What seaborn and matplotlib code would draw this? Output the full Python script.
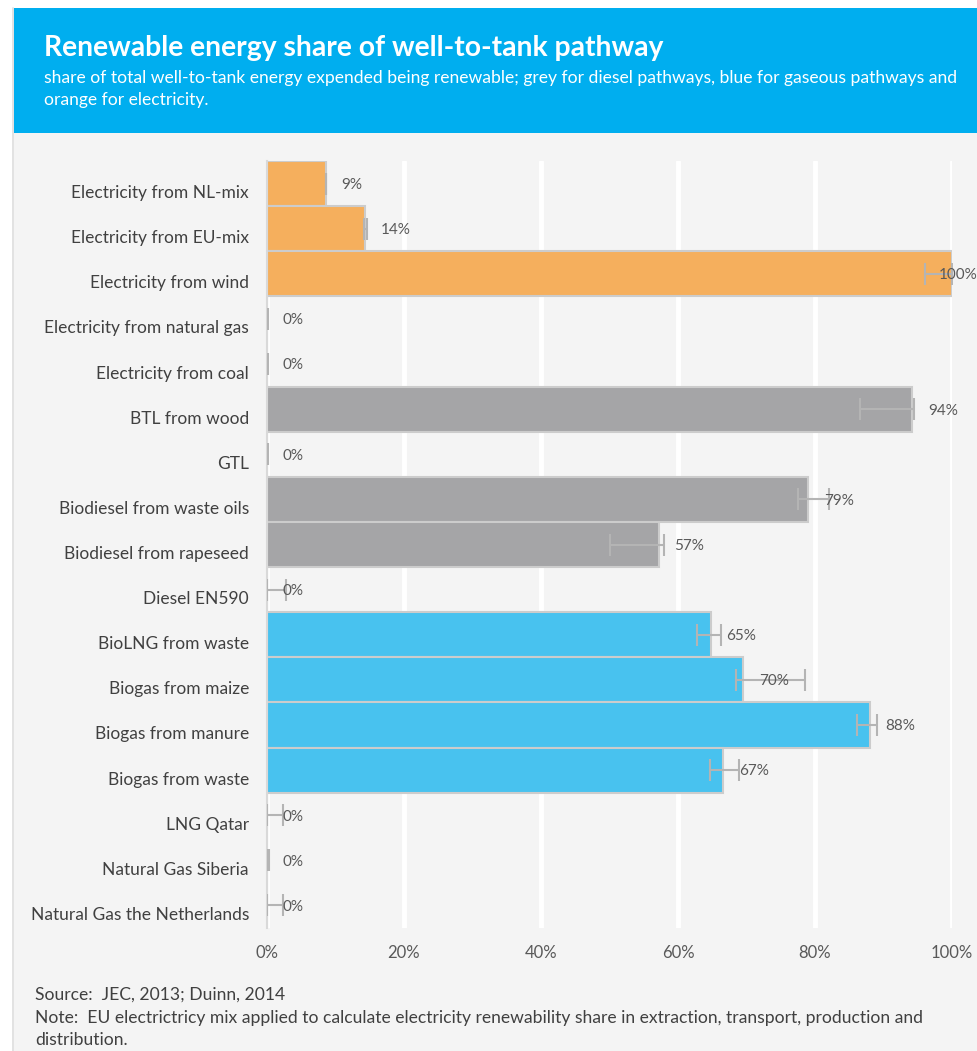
import pandas as pd
import seaborn as sns
import matplotlib.pyplot as plt
import matplotlib.transforms as mtransforms
from matplotlib.patches import Rectangle
from matplotlib.lines import Line2D

# Data (top to bottom)
pathways = [
    "Electricity from NL-mix", "Electricity from EU-mix", "Electricity from wind",
    "Electricity from natural gas", "Electricity from coal", "BTL from wood", "GTL",
    "Biodiesel from waste oils", "Biodiesel from rapeseed", "Diesel EN590",
    "BioLNG from waste", "Biogas from maize", "Biogas from manure", "Biogas from waste",
    "LNG Qatar", "Natural Gas Siberia", "Natural Gas the Netherlands",
]
share = [8.6, 14.3, 100, 0, 0, 94.2, 0, 79.0, 57.2, 0, 64.8, 69.5, 88.0, 66.6, 0, 0, 0]
err_low = [0, 0.2, 4.0, 0, 0, 7.7, 0, 1.5, 7.2, 0, 2.0, 1.0, 1.9, 1.9, 0, 0, 0]
err_high = [0, 0.3, 0, 0.1, 0.1, 0.2, 0.2, 3.0, 0.8, 2.8, 1.5, 9.0, 1.0, 2.3, 2.4, 0.3, 2.4]
groups = ["Electricity"] * 5 + ["Diesel"] * 5 + ["Gas"] * 7
value_labels = ["9%", "14%", "100%", "0%", "0%", "94%", "0%", "79%", "57%", "0%",
                "65%", "70%", "88%", "67%", "0%", "0%", "0%"]

palette = {"Electricity": "#F5AF5D", "Diesel": "#A5A5A7", "Gas": "#48C2EF"}

df = pd.DataFrame({"pathway": pathways, "share": share, "group": groups})

sns.set_style("white")
plt.rcParams["font.family"] = ["Lato", "DejaVu Sans"]

fig = plt.figure(figsize=(9.78, 10.51), dpi=100)
fig.patch.set_facecolor("white")

# panel background + header band
fig.patches.append(Rectangle((14 / 978, 0), 1, (1051 - 133) / 1051, transform=fig.transFigure,
                             facecolor="#F4F4F4", edgecolor="none", zorder=-2))
fig.patches.append(Rectangle((14 / 978, (1051 - 133) / 1051), 1, 125 / 1051, transform=fig.transFigure,
                             facecolor="#00AEEF", edgecolor="none", zorder=-2))
fig.lines.append(Line2D([13 / 978, 13 / 978], [0, (1051 - 8) / 1051], transform=fig.transFigure,
                        color="#DDDDDD", lw=1.2, zorder=-1))

ax = fig.add_axes([267 / 978, 1 - 928 / 1051, (952 - 267) / 978, (928 - 161) / 1051])
ax.set_facecolor("#F4F4F4")

sns.barplot(data=df, x="share", y="pathway", hue="group", palette=palette, orient="h",
            dodge=False, width=1.0, saturation=1, edgecolor="#CCCCCC", linewidth=1.5,
            legend=False, ax=ax)

ypos = list(range(len(pathways)))
ax.errorbar(share, ypos, xerr=[err_low, err_high], fmt="none", ecolor="#B4B4B4",
            elinewidth=1.5, capsize=8, capthick=1.5, zorder=5)

for y, v, lab in zip(ypos, share, value_labels):
    # the 100% label is pulled back so it stays on the page
    dx = 11.2 if v < 99 else -9.5
    ax.annotate(lab, (v, y), xytext=(dx, -1), textcoords="offset points", ha="left",
                va="center", fontsize=11, color="#595959", zorder=6, annotation_clip=False)

ax.set_xlim(0, 100)
ax.set_ylim(len(pathways) - 0.5, -0.5)
ax.set_xticks([0, 20, 40, 60, 80, 100])
ax.set_xticklabels(["0%", "20%", "40%", "60%", "80%", "100%"])
ax.xaxis.grid(True, color="white", linewidth=3.5)
ax.set_axisbelow(True)
ax.set_xlabel("")
ax.set_ylabel("")
for s in ["top", "right", "bottom"]:
    ax.spines[s].set_visible(False)
ax.spines["left"].set_color("#D9D9D9")
ax.spines["left"].set_linewidth(1.5)
ax.tick_params(axis="x", length=0, pad=12, labelsize=12, labelcolor="#595959")
ax.tick_params(axis="y", length=0, pad=13, labelsize=12.5, labelcolor="#404040")

# category labels sit a little below the bar centres
shift = mtransforms.ScaledTranslation(0, -0.08, fig.dpi_scale_trans)
for lab in ax.get_yticklabels():
    lab.set_transform(lab.get_transform() + shift)

# header text
fig.text(44 / 978, 1 - 48 / 1051, "Renewable energy share of well-to-tank pathway",
         color="white", fontsize=20.3, fontweight="bold", va="center", ha="left")
fig.text(44 / 978, 1 - 78 / 1051,
         "share of total well-to-tank energy expended being renewable; grey for diesel pathways, blue for gaseous pathways and",
         color="white", fontsize=12.6, va="center", ha="left")
fig.text(44 / 978, 1 - 100 / 1051, "orange for electricity.",
         color="white", fontsize=12.6, va="center", ha="left")

# footer
fig.text(35 / 978, 1 - 995 / 1051, "Source:  JEC, 2013; Duinn, 2014",
         color="#404040", fontsize=12.6, va="center", ha="left")
fig.text(35 / 978, 1 - 1018 / 1051,
         "Note:  EU electrictricy mix applied to calculate electricity renewability share in extraction, transport, production and",
         color="#404040", fontsize=12.6, va="center", ha="left")
fig.text(35 / 978, 1 - 1040 / 1051, "distribution.",
         color="#404040", fontsize=12.6, va="center", ha="left")

fig.savefig("out.png", dpi=100)
